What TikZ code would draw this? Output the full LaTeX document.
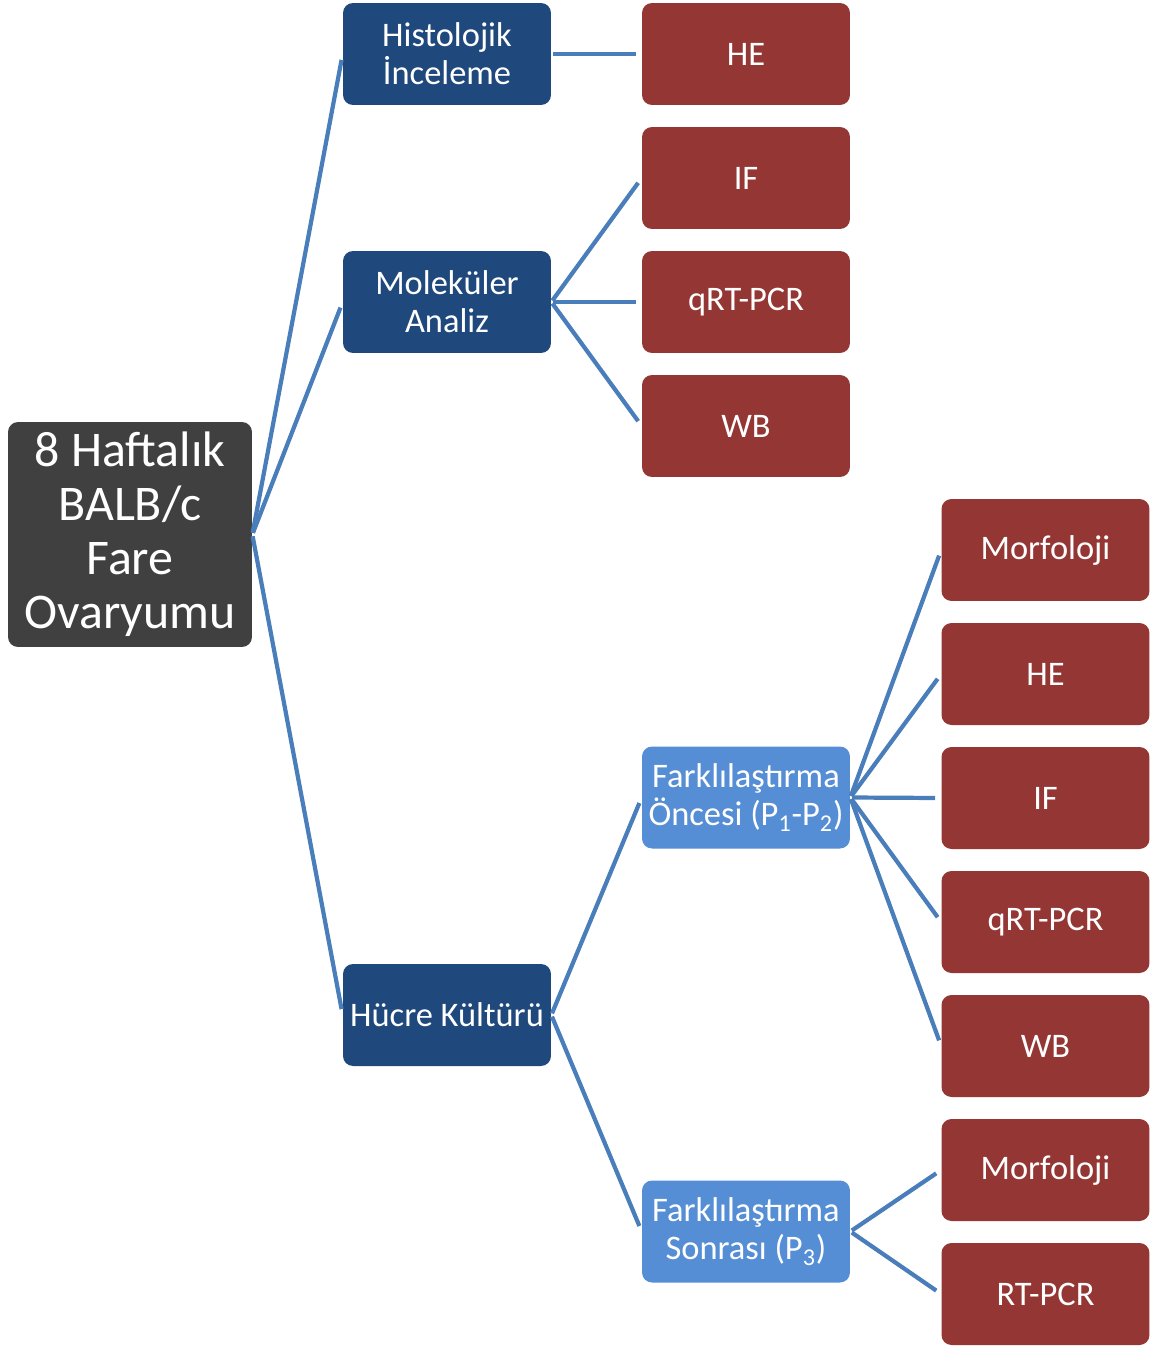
\documentclass[tikz,border=0pt]{standalone}
\usepackage{fontspec}
\setmainfont{Carlito}
\definecolor{rootgray}{HTML}{404040}
\definecolor{grpblue}{HTML}{1F487C}
\definecolor{subblue}{HTML}{558ED5}
\definecolor{leafred}{HTML}{943634}
\definecolor{linkblue}{HTML}{4A7EBB}
\tikzset{
  box/.style={rounded corners=0.2cm, text=white, align=center, inner sep=2pt,
    minimum width=4.16cm, minimum height=2.04cm,
    font=\fontsize{19.6}{21.5}\selectfont},
  rootbox/.style={box, fill=rootgray, minimum width=4.88cm, minimum height=4.5cm,
    font=\fontsize{28.4}{30.8}\selectfont},
  grp/.style={box, fill=grpblue},
  subgrp/.style={box, fill=subblue},
  leaf/.style={box, fill=leafred},
  link/.style={draw=linkblue, line width=2.4pt, shorten >=3.4pt, shorten <=1pt}
}
\begin{document}
\begin{tikzpicture}[x=0.02cm, y=-0.02cm]
  \useasboundingbox (0,0) rectangle (1156,1346);

  \node[rootbox] (root) at (130,534.5) {8 Haftalık\\BALB/c\\Fare\\Ovaryumu};

  \node[grp] (hist) at (447,54) {Histolojik\\İnceleme};
  \node[grp] (mol) at (447,302) {Moleküler\\Analiz};
  \node[grp] (cult) at (447,1015) {Hücre Kültürü};

  \node[leaf] (he1) at (746,54) {HE};
  \node[leaf] (if1) at (746,178) {IF};
  \node[leaf] (pcr1) at (746,302) {qRT-PCR};
  \node[leaf] (wb1) at (746,426) {WB};

  \node[subgrp] (pre) at (746,797.5) {Farklılaştırma\\Öncesi (P\textsubscript{1}-P\textsubscript{2})};
  \node[subgrp] (post) at (746,1231.5) {Farklılaştırma\\Sonrası (P\textsubscript{3})};

  \node[leaf] (morf1) at (1045.5,550) {Morfoloji};
  \node[leaf] (he2) at (1045.5,674) {HE};
  \node[leaf] (if2) at (1045.5,798) {IF};
  \node[leaf] (pcr2) at (1045.5,922) {qRT-PCR};
  \node[leaf] (wb2) at (1045.5,1046) {WB};
  \node[leaf] (morf2) at (1045.5,1170) {Morfoloji};
  \node[leaf] (rtpcr) at (1045.5,1294) {RT-PCR};

  % first level
  \foreach \t in {hist,mol,cult}
    \draw[link] (root.east) -- (\t.west);
  % second level
  \draw[link] (hist.east) -- (he1.west);
  \foreach \t in {if1,pcr1,wb1}
    \draw[link] (mol.east) -- (\t.west);
  \foreach \t in {pre,post}
    \draw[link] (cult.east) -- (\t.west);
  % third level
  \foreach \t in {morf1,he2,if2,pcr2,wb2}
    \draw[link] (pre.east) -- (\t.west);
  \foreach \t in {morf2,rtpcr}
    \draw[link] (post.east) -- (\t.west);
\end{tikzpicture}
\end{document}
